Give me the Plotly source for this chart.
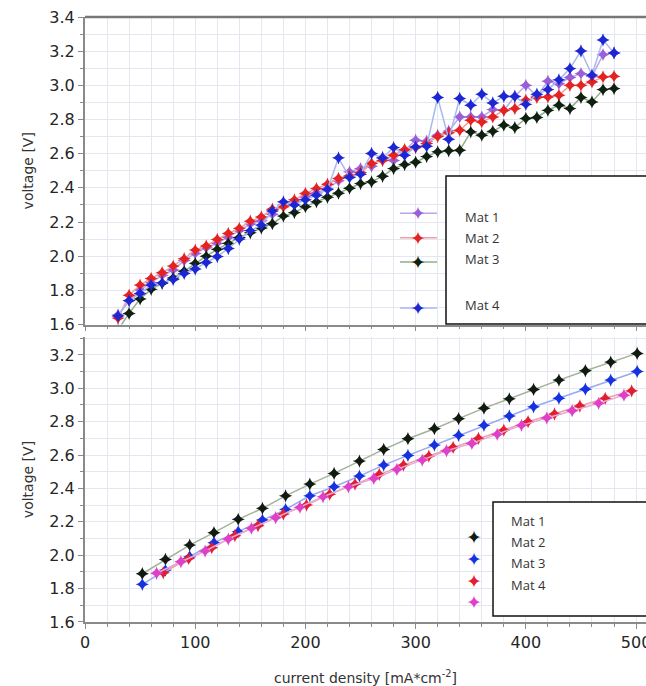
import plotly.graph_objects as go

# ---------------- data ----------------
top_current = [30, 40, 50, 60, 70, 80, 90, 100, 110, 120,
               130, 140, 150, 160, 170, 180, 190, 200, 210, 220,
               230, 240, 250, 260, 270, 280, 290, 300, 310, 320,
               330, 340, 350, 360, 370, 380, 390, 400, 410, 420,
               430, 440, 450, 460, 470, 480]

top_mat1 = [1.656, 1.739, 1.802, 1.844, 1.889, 1.919, 1.975, 2.016, 2.05, 2.075,
            2.11, 2.15, 2.188, 2.207, 2.246, 2.30, 2.318, 2.347, 2.37, 2.396,
            2.441, 2.494, 2.513, 2.527, 2.578, 2.56, 2.62, 2.679, 2.673, 2.708,
            2.732, 2.815, 2.815, 2.815, 2.858, 2.854, 2.936, 3.0, 2.936, 3.024,
            3.010, 3.046, 3.069, 3.053, 3.180, 3.19]
top_mat2 = [1.638, 1.772, 1.831, 1.870, 1.903, 1.942, 1.985, 2.036, 2.06, 2.098,
            2.133, 2.163, 2.205, 2.23, 2.275, 2.29, 2.33, 2.367, 2.396, 2.421,
            2.455, 2.47, 2.49, 2.543, 2.56, 2.591, 2.624, 2.636, 2.66, 2.70,
            2.722, 2.737, 2.796, 2.786, 2.815, 2.854, 2.864, 2.913, 2.929, 2.932,
            2.942, 3.0, 3.0, 3.02, 3.049, 3.053]
top_mat3 = [1.57, 1.665, 1.75, 1.806, 1.841, 1.873, 1.912, 1.958, 2.0, 2.04,
            2.075, 2.11, 2.137, 2.165, 2.19, 2.235, 2.255, 2.29, 2.318, 2.345,
            2.369, 2.398, 2.425, 2.435, 2.468, 2.513, 2.536, 2.55, 2.583, 2.611,
            2.617, 2.62, 2.728, 2.708, 2.731, 2.767, 2.753, 2.806, 2.812, 2.854,
            2.884, 2.864, 2.929, 2.903, 2.975, 2.981]
top_mat4 = [1.65, 1.74, 1.782, 1.831, 1.844, 1.864, 1.899, 1.925, 1.963, 1.998,
            2.045, 2.10, 2.15, 2.182, 2.265, 2.318, 2.30, 2.33, 2.357, 2.39,
            2.576, 2.461, 2.48, 2.601, 2.575, 2.636, 2.591, 2.64, 2.644, 2.929,
            2.685, 2.923, 2.884, 2.948, 2.897, 2.936, 2.934, 2.889, 2.948, 2.975,
            3.032, 3.098, 3.201, 3.06, 3.266, 3.19]

bot_x_mat12 = [52, 73, 95, 117, 139, 161, 182, 204, 226, 249, 271,
               293, 317, 339, 362, 385, 407, 430, 454, 477, 501]
bot_mat1 = [1.889, 1.975, 2.061, 2.135, 2.215, 2.281, 2.356, 2.426, 2.49, 2.564, 2.634,
            2.698, 2.758, 2.818, 2.881, 2.937, 2.993, 3.049, 3.105, 3.157, 3.209]
bot_mat2 = [1.826, 1.911, 1.991, 2.075, 2.141, 2.211, 2.275, 2.356, 2.41, 2.474, 2.54,
            2.598, 2.66, 2.718, 2.778, 2.834, 2.889, 2.941, 2.995, 3.049, 3.101]
bot_x_mat3 = [71, 94, 115, 136, 157, 180, 201, 222, 245, 267,
              289, 312, 334, 357, 380, 402, 426, 449, 472, 496]
bot_mat3 = [1.895, 1.981, 2.045, 2.117, 2.177, 2.247, 2.301, 2.366, 2.426, 2.484,
            2.540, 2.594, 2.646, 2.700, 2.750, 2.800, 2.846, 2.894, 2.940, 2.985]
bot_x_mat4 = [65, 87, 109, 130, 151, 173, 195, 216, 239, 262,
              283, 306, 328, 351, 374, 396, 419, 442, 466, 489]
bot_mat4 = [1.892, 1.961, 2.025, 2.097, 2.161, 2.225, 2.287, 2.350, 2.410, 2.460,
            2.514, 2.570, 2.626, 2.670, 2.724, 2.778, 2.822, 2.866, 2.910, 2.959]

series_names = ["Mat 1", "Mat 2", "Mat 3", "Mat 4"]
top_y_ticks = [1.6, 1.8, 2.0, 2.2, 2.4, 2.6, 2.8, 3.0, 3.2, 3.4]
bot_y_ticks = [1.6, 1.8, 2.0, 2.2, 2.4, 2.6, 2.8, 3.0, 3.2]
x_ticks = [0, 100, 200, 300, 400, 500]

# ---------------- styles ----------------
top_marker_colors = ["#9a5fd8", "#e52222", "#102010", "#1c26d2"]
top_line_colors = ["#b9a8ea", "#f0a0a0", "#8fae8f", "#a8b8f2"]
bot_marker_colors = ["#101a10", "#1632e0", "#e02032", "#e040c8"]
bot_line_colors = ["#a3b298", "#98a8f2", "#e8a4ac", "#e8a8d8"]

fig = go.Figure()

top_vals = [top_mat1, top_mat2, top_mat3, top_mat4]
for name, vals, mc, lc in zip(series_names, top_vals, top_marker_colors, top_line_colors):
    fig.add_trace(go.Scatter(
        x=top_current, y=vals, name=name, mode="lines+markers",
        line=dict(color=lc, width=1.5),
        marker=dict(symbol="star-diamond", size=9.5, color=mc, line=dict(width=0)),
        xaxis="x", yaxis="y", showlegend=False))

bot_sets = [(bot_x_mat12, bot_mat1), (bot_x_mat12, bot_mat2),
            (bot_x_mat3, bot_mat3), (bot_x_mat4, bot_mat4)]
for name, (xs, vals), mc, lc in zip(series_names, bot_sets, bot_marker_colors, bot_line_colors):
    fig.add_trace(go.Scatter(
        x=xs, y=vals, name=name, mode="lines+markers",
        line=dict(color=lc, width=1.5),
        marker=dict(symbol="star-diamond", size=9.5, color=mc, line=dict(width=0)),
        xaxis="x2", yaxis="y2", showlegend=False))

grid_c = "#e4e7f1"
axis_c = "#8a8a8a"
tick_font = dict(family="DejaVu Sans", size=16, color="#262626")
title_font = dict(family="DejaVu Sans", size=14, color="#333333")

common_x = dict(
    range=[0, 509], tickvals=x_ticks, showgrid=True, gridcolor=grid_c, gridwidth=1,
    minor=dict(dtick=20, showgrid=True, gridcolor=grid_c, ticks="outside", ticklen=3,
               tickcolor=axis_c),
    ticks="outside", ticklen=5, tickcolor=axis_c, showline=True, linecolor=axis_c,
    linewidth=1.5, zeroline=False, tickfont=tick_font, automargin=False,
    ticklabeloverflow="allow")
common_y = dict(
    showgrid=True, gridcolor=grid_c, gridwidth=1,
    minor=dict(dtick=0.1, showgrid=True, gridcolor=grid_c, ticks="outside", ticklen=3,
               tickcolor=axis_c),
    ticks="outside", ticklen=5, tickcolor=axis_c, showline=True, linecolor=axis_c,
    linewidth=2, zeroline=False, tickfont=tick_font, tickformat=".1f", automargin=False,
    title=dict(text="voltage [V]", font=title_font, standoff=12))

fig.update_layout(
    width=646, height=686,
    margin=dict(l=85, r=0, t=17, b=64),
    paper_bgcolor="white", plot_bgcolor="white",
    showlegend=False,
    xaxis=dict(common_x, domain=[0, 1], anchor="y", showticklabels=False),
    yaxis=dict(common_y, domain=[0.4917, 1], anchor="x", range=[1.6, 3.4],
               tickvals=top_y_ticks),
    xaxis2=dict(common_x, domain=[0, 1], anchor="y2",
                title=dict(text="current density [mA*cm<sup>-2</sup>]", font=title_font,
                           standoff=22)),
    yaxis2=dict(common_y, domain=[0, 0.471], anchor="x2", range=[1.6, 3.307],
                tickvals=bot_y_ticks),
)

shapes = [
    # top frame line of upper panel
    dict(type="line", xref="paper", yref="paper", x0=0, x1=1.01, y0=1, y1=1,
         line=dict(color="#777777", width=2.5)),
    # legend boxes
    dict(type="rect", xref="paper", yref="paper", x0=0.6435, x1=1.02, y0=0.4926, y1=0.7372,
         fillcolor="white", line=dict(color="#111111", width=1.5), layer="above"),
    dict(type="rect", xref="paper", yref="paper", x0=0.7273, x1=1.02, y0=0.0099, y1=0.1983,
         fillcolor="white", line=dict(color="#111111", width=1.5), layer="above"),
]
annotations = []

top_sym_y = [0.6755, 0.6352, 0.5950, 0.5190]
top_txt_y = [0.6699, 0.6347, 0.6000, 0.5240]
for name, sy, ty, mc, lc in zip(series_names, top_sym_y, top_txt_y,
                                top_marker_colors, top_line_colors):
    shapes.append(dict(type="line", xref="paper", yref="paper", x0=0.5615, x1=0.6275,
                       y0=sy, y1=sy, line=dict(color=lc, width=1.5), layer="above"))
    annotations.append(dict(xref="paper", yref="paper", x=0.5936, y=sy, text="✦",
                            showarrow=False, font=dict(family="DejaVu Sans", size=19, color=mc),
                            xanchor="center", yanchor="middle"))
    annotations.append(dict(xref="paper", yref="paper", x=0.6738, y=ty, text=name,
                            showarrow=False, font=dict(family="Open Sans", size=13, color="#333333"),
                            xanchor="left", yanchor="middle"))

bot_sym_y = [0.1410, 0.1041, 0.0683, 0.0326]
bot_txt_y = [0.1674, 0.1327, 0.0980, 0.0612]
for name, sy, ty, mc in zip(series_names, bot_sym_y, bot_txt_y, bot_marker_colors):
    annotations.append(dict(xref="paper", yref="paper", x=0.6934, y=sy, text="✦",
                            showarrow=False, font=dict(family="DejaVu Sans", size=19, color=mc),
                            xanchor="center", yanchor="middle"))
    annotations.append(dict(xref="paper", yref="paper", x=0.7558, y=ty, text=name,
                            showarrow=False, font=dict(family="Open Sans", size=13, color="#333333"),
                            xanchor="left", yanchor="middle"))

fig.update_layout(shapes=shapes, annotations=annotations)

# remove the default page margin so the 646x686 figure fills the window exactly
fig.write_html(
    "out.html",
    config={"displayModeBar": False},
    post_script="document.body.style.margin='0';document.body.style.overflow='hidden';",
)
